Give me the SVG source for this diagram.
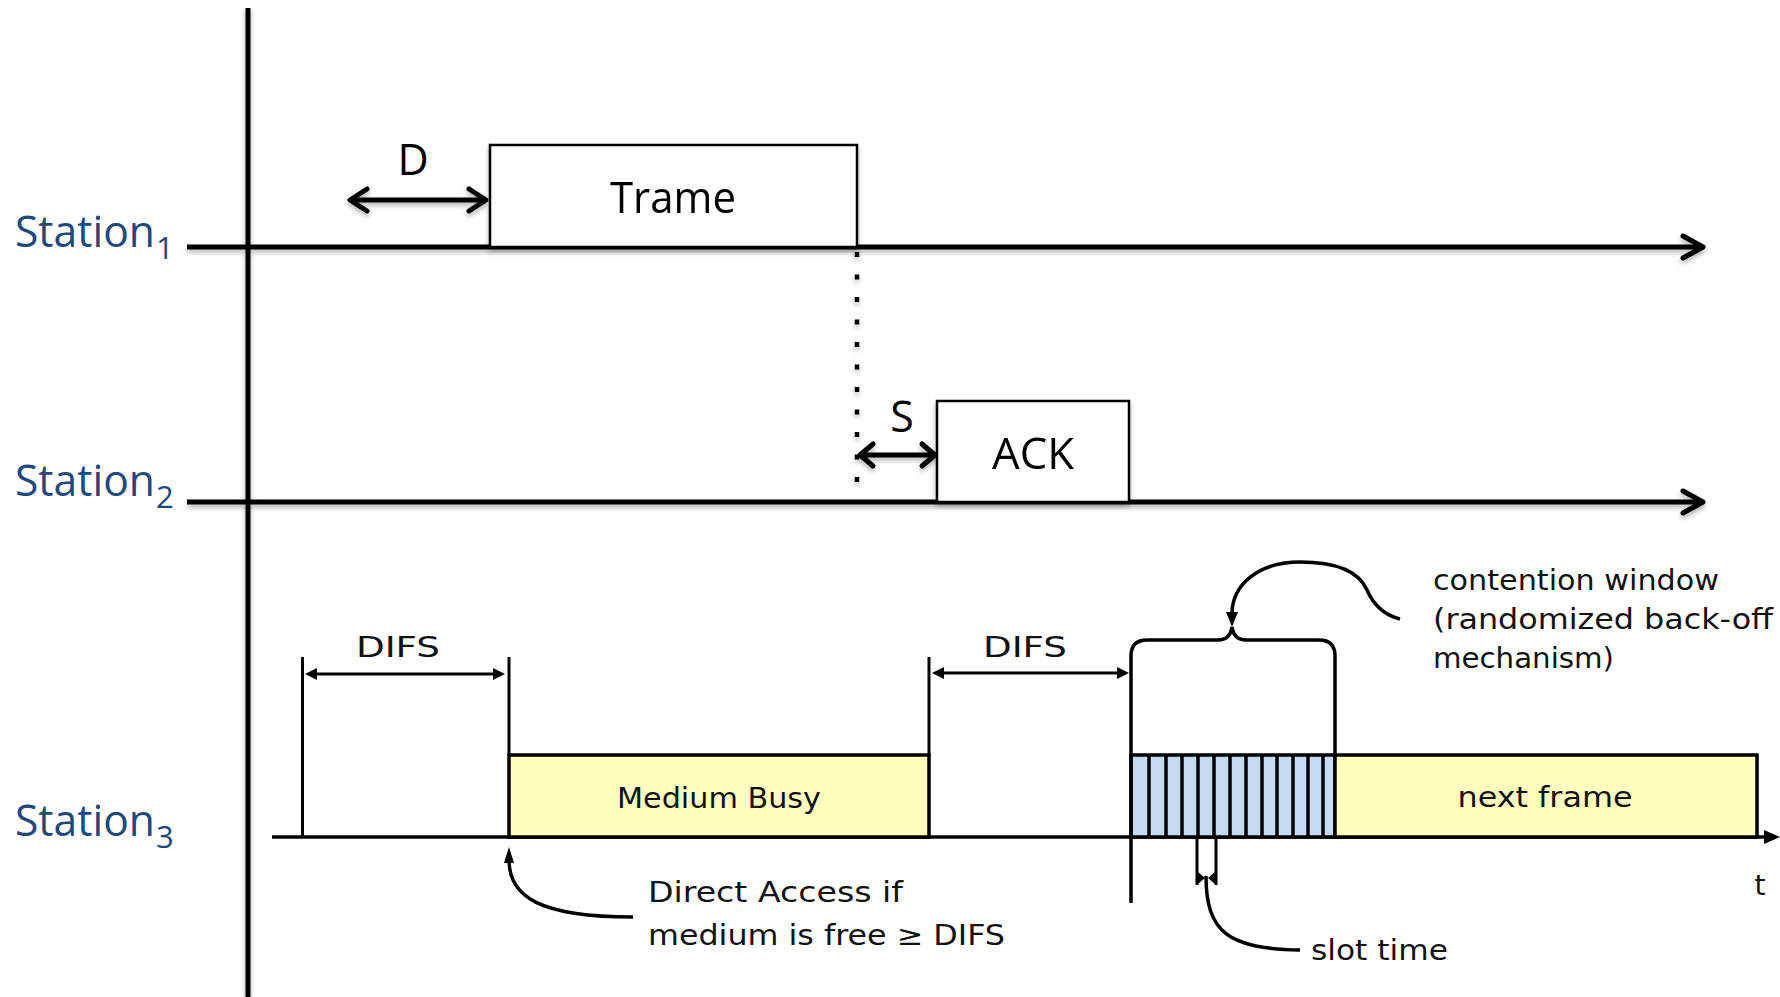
<svg xmlns="http://www.w3.org/2000/svg" width="1780" height="997" viewBox="0 0 1780 997">
<style>
.ln{stroke:#000;stroke-width:5;fill:none;stroke-linecap:butt}
.chev{stroke:#000;stroke-width:5;fill:none;stroke-linecap:round;stroke-linejoin:round}
.box{fill:#fff;stroke:#000;stroke-width:2.5}
.tt{font-family:"Open Sans","Noto Sans",sans-serif;font-size:43px;fill:#000}
.st{font-family:"Open Sans","Noto Sans",sans-serif;font-size:43px;fill:#1F497D}
.sub{font-family:"Open Sans","Noto Sans",sans-serif;font-size:31px;fill:#1F497D}
.bl{stroke:#000;stroke-width:3.5;fill:none}
.bt{stroke:#000;stroke-width:3}
.cm{font-family:"DejaVu Sans",sans-serif;font-size:28px;fill:#111}
.yel{fill:#FFFFC0;stroke:#000;stroke-width:3.5}
.blu{fill:#C6DBF3;stroke:#000;stroke-width:3.5}
.ah{fill:#000}
</style>
<defs>
<filter id="sh" x="-5%" y="-20%" width="110%" height="160%">
<feDropShadow dx="0" dy="3" stdDeviation="2.5" flood-color="#000" flood-opacity="0.3"/>
</filter>
</defs>

<g id="labels">
<text class="st" x="15" y="247" textLength="140" lengthAdjust="spacingAndGlyphs">Station</text>
<text class="sub" x="156" y="259">1</text>
<text class="st" x="15" y="496" textLength="140" lengthAdjust="spacingAndGlyphs">Station</text>
<text class="sub" x="156" y="508">2</text>
<text class="st" x="15" y="836" textLength="140" lengthAdjust="spacingAndGlyphs">Station</text>
<text class="sub" x="156" y="848">3</text>
</g>

<g id="connectors" filter="url(#sh)">
<line class="ln" x1="248" y1="8" x2="248" y2="997"/>
<line class="ln" x1="187" y1="247" x2="1700" y2="247"/>
<polyline class="chev" points="1683,236 1703,247 1683,258"/>
<line class="ln" x1="187" y1="502" x2="1700" y2="502"/>
<polyline class="chev" points="1683,491 1703,502 1683,513"/>
<line class="ln" x1="352" y1="200" x2="486" y2="200" stroke-width="4"/>
<polyline class="chev" points="367,189 350,200 367,211" stroke-width="4.5"/>
<polyline class="chev" points="469,189 486,200 469,211" stroke-width="4.5"/>
<line x1="857" y1="252" x2="857" y2="482" stroke="#000" stroke-width="4.5" stroke-dasharray="5 17.5"/>
<line class="ln" x1="861" y1="455" x2="934" y2="455" stroke-width="4"/>
<polyline class="chev" points="873,444 860,455 873,466" stroke-width="4.5"/>
<polyline class="chev" points="922,444 935,455 922,466" stroke-width="4.5"/>
</g>

<g id="trame" filter="url(#sh)">
<rect class="box" x="490" y="145" width="367" height="102"/>
<text class="tt" x="673" y="213" text-anchor="middle" textLength="126" lengthAdjust="spacingAndGlyphs">Trame</text>
</g>
<text class="tt" x="413" y="175" text-anchor="middle">D</text>

<g id="ack" filter="url(#sh)">
<rect class="box" x="937" y="401" width="192" height="101"/>
<text class="tt" x="1033" y="469" text-anchor="middle" textLength="82" lengthAdjust="spacingAndGlyphs">ACK</text>
</g>
<text class="tt" x="902" y="432" text-anchor="middle">S</text>

<g id="station3">
<line class="bl" x1="272" y1="837" x2="1768" y2="837"/>
<polygon class="ah" points="1764,830 1780,837 1764,844"/>
<line class="bt" x1="302.5" y1="657" x2="302.5" y2="837"/>
<line class="bt" x1="509" y1="657" x2="509" y2="756"/>
<line class="bt" x1="929" y1="657" x2="929" y2="756"/>
<line class="bt" x1="314" y1="674" x2="496" y2="674"/>
<polygon class="ah" points="305,674 317,668 317,680"/>
<polygon class="ah" points="505,674 493,668 493,680"/>
<line class="bt" x1="941" y1="673" x2="1118" y2="673"/>
<polygon class="ah" points="932,673 944,667 944,679"/>
<polygon class="ah" points="1129,673 1117,667 1117,679"/>
<text class="cm" x="398" y="657" text-anchor="middle" font-size="30" textLength="84" lengthAdjust="spacingAndGlyphs">DIFS</text>
<text class="cm" x="1025" y="657" text-anchor="middle" font-size="30" textLength="84" lengthAdjust="spacingAndGlyphs">DIFS</text>
</g>

<g id="medium-busy">
<rect class="yel" x="509" y="755" width="420" height="82"/>
<text class="cm" x="719" y="808" text-anchor="middle" textLength="204" lengthAdjust="spacingAndGlyphs">Medium Busy</text>
</g>

<g id="contention">
<rect class="blu" x="1131" y="755" width="204" height="82"/>
<g stroke="#000" stroke-width="3.5">
<line x1="1149" y1="755" x2="1149" y2="837"/>
<line x1="1166" y1="755" x2="1166" y2="837"/>
<line x1="1182" y1="755" x2="1182" y2="837"/>
<line x1="1198" y1="755" x2="1198" y2="837"/>
<line x1="1214" y1="755" x2="1214" y2="837"/>
<line x1="1230" y1="755" x2="1230" y2="837"/>
<line x1="1246" y1="755" x2="1246" y2="837"/>
<line x1="1262" y1="755" x2="1262" y2="837"/>
<line x1="1277" y1="755" x2="1277" y2="837"/>
<line x1="1293" y1="755" x2="1293" y2="837"/>
<line x1="1308" y1="755" x2="1308" y2="837"/>
<line x1="1323" y1="755" x2="1323" y2="837"/>
</g>
<path class="bl" d="M1131,903 L1131,656 Q1131,640 1147,640 L1218,640 Q1230,640 1232,627 Q1234,640 1246,640 L1319,640 Q1335,640 1335,656 L1335,755"/>
<path class="bl" d="M1232,614 C1232,585 1258,562 1300,562 C1340,562 1360,574 1367,590 C1374,606 1384,615 1400,619" stroke-width="3"/>
<polygon class="ah" points="1226,612 1238,612 1232,627"/>
<text class="cm" x="1433" y="590" textLength="286" lengthAdjust="spacingAndGlyphs">contention window</text>
<text class="cm" x="1433" y="629" textLength="340" lengthAdjust="spacingAndGlyphs">(randomized back-off</text>
<text class="cm" x="1433" y="668" textLength="181" lengthAdjust="spacingAndGlyphs">mechanism)</text>
</g>

<g id="next-frame">
<rect class="yel" x="1335" y="755" width="422" height="82"/>
<text class="cm" x="1545" y="807" text-anchor="middle" textLength="175" lengthAdjust="spacingAndGlyphs">next frame</text>
</g>

<g id="direct-access">
<path class="bl" d="M509,860 C509,897 540,917 633,917" stroke-width="3"/>
<polygon class="ah" points="504,863 514,863 509,847"/>
<text class="cm" x="648" y="902" textLength="255" lengthAdjust="spacingAndGlyphs">Direct Access if</text>
<text class="cm" x="648" y="945" textLength="357" lengthAdjust="spacingAndGlyphs">medium is free ≥ DIFS</text>
</g>

<g id="slot-time">
<line class="bt" x1="1197" y1="837" x2="1197" y2="885"/>
<line class="bt" x1="1216" y1="837" x2="1216" y2="885"/>
<polygon class="ah" points="1198,872 1205,878 1198,884"/>
<polygon class="ah" points="1215,872 1208,878 1215,884"/>
<path class="bl" d="M1206,876 C1206,932 1228,949 1300,950" stroke-width="3"/>
<text class="cm" x="1311" y="960" textLength="137" lengthAdjust="spacingAndGlyphs">slot time</text>
<text class="cm" x="1760" y="895" text-anchor="middle">t</text>
</g>
</svg>
